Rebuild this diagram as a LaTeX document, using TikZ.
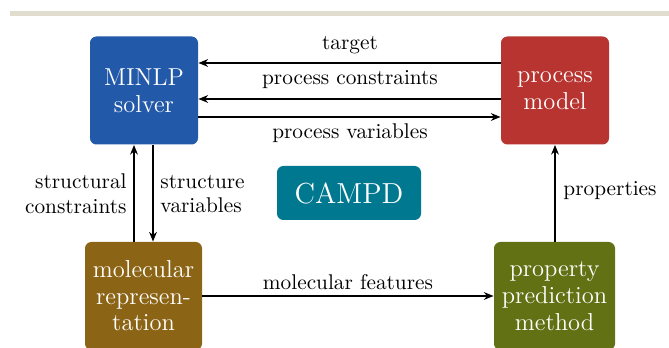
\documentclass[tikz,border=0pt]{standalone}
\usetikzlibrary{arrows.meta,calc}
\definecolor{cblue}{HTML}{2359A9}
\definecolor{cred}{HTML}{B73430}
\definecolor{cteal}{HTML}{00788F}
\definecolor{cbrown}{HTML}{8C6415}
\definecolor{colive}{HTML}{627114}
\definecolor{cbar}{HTML}{E0DDCF}
\begin{document}
\begin{tikzpicture}[x=0.4695pt,y=-0.4695pt,
  box/.style={rounded corners=3pt, text=white, align=center,
    font=\fontsize{11.5}{12.5}\selectfont, inner sep=0pt,
    minimum height=108*0.4695pt},
  conn/.style={line width=0.75pt, -{Stealth[length=4.5pt,width=3.6pt,inset=1.4pt]}},
  lbl/.style={font=\fontsize{10}{11.6}\selectfont, inner sep=0pt}]
\useasboundingbox (0,0) rectangle (669,348);
\clip (0,0) rectangle (669,348);
\fill[cbar] (10,11) rectangle (669,16);
\node[box, fill=cblue, minimum width=108*0.4695pt] (ms) at (144,90.5) {MINLP\\solver};
\node[box, fill=cred, minimum width=108*0.4695pt] (pm) at (555,90.5) {process\\model};
\node[box, fill=cteal, minimum width=144*0.4695pt, minimum height=54*0.4695pt,
  font=\fontsize{13.6}{15}\selectfont] (cp) at (349,193) {CAMPD};
\node[box, fill=cbrown, minimum width=117*0.4695pt] (mr) at (143.5,296) {molecular\\represen-\\tation};
\node[box, fill=colive, minimum width=121*0.4695pt] (pp) at (554.5,296) {property\\prediction\\method};
\draw[conn] ([yshift=27.5*0.4695pt]pm.west) -- ([yshift=27.5*0.4695pt]ms.east);
\draw[conn] ([yshift=-8.5*0.4695pt]pm.west) -- ([yshift=-8.5*0.4695pt]ms.east);
\draw[conn] ([yshift=-26.5*0.4695pt]ms.east) -- ([yshift=-26.5*0.4695pt]pm.east -| pm.west);
\draw[conn] ([xshift=-10*0.4695pt]ms.south |- mr.north) -- ([xshift=-10*0.4695pt]ms.south);
\draw[conn] ([xshift=9*0.4695pt]ms.south) -- ([xshift=9*0.4695pt]ms.south |- mr.north);
\draw[conn] (pp.north -| pm.south) -- (pm.south);
\draw[conn] (mr.east) -- (pp.west);
\node[lbl] (l1) at (350,45) {target};
\node[lbl] (l2) at (350,80) {process constraints};
\node[lbl] (l3) at (350,133) {process variables};
\node[lbl, anchor=east, align=right] (l4) at (127,194) {structural\\constraints};
\node[lbl, anchor=west, align=left] (l5) at (160,194) {structure\\variables};
\node[lbl, anchor=west] (l6) at (563,191) {properties};
\node[lbl] (l7) at (348,282) {molecular features};
\end{tikzpicture}
\end{document}
